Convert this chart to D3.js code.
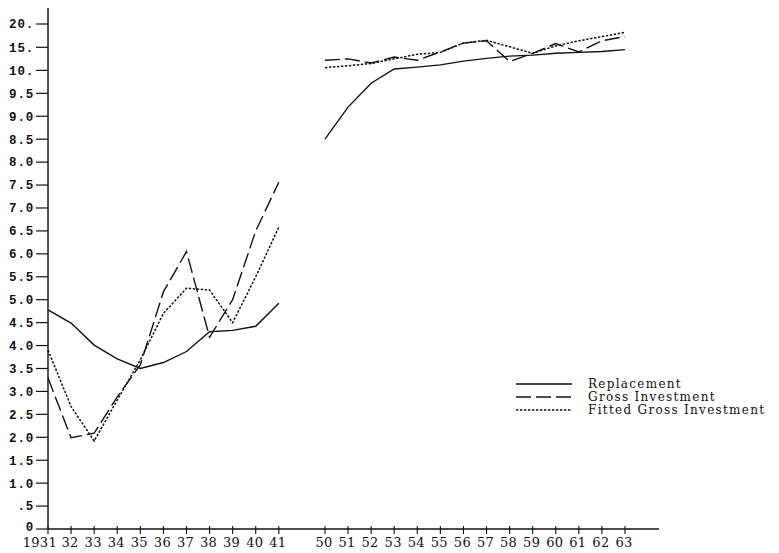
<!DOCTYPE html>
<html>
<head>
<meta charset="utf-8">
<script src="https://cdn.jsdelivr.net/npm/d3@7/dist/d3.min.js"></script>
<style>
  body { margin: 0; background: #fff; }
</style>
</head>
<body>
<div id="chart"></div>
<script>
// years, split in two runs (war years missing)
const yearsA = [1931, 1932, 1933, 1934, 1935, 1936, 1937, 1938, 1939, 1940, 1941];
const yearsB = [1950, 1951, 1952, 1953, 1954, 1955, 1956, 1957, 1958, 1959, 1960, 1961, 1962, 1963];

const replacementA = [4.78, 4.49, 4.01, 3.71, 3.50, 3.63, 3.87, 4.30, 4.33, 4.42, 4.92];
const grossA       = [3.29, 1.99, 2.09, 2.88, 3.58, 5.17, 6.05, 4.18, 5.00, 6.50, 7.56];
const fittedA      = [3.90, 2.67, 1.92, 2.81, 3.69, 4.70, 5.25, 5.21, 4.50, 5.50, 6.58];

const replacementB = [8.50, 9.20, 9.72, 10.3, 10.7, 11.2, 12.0, 12.6, 13.1, 13.3, 13.7, 13.9, 14.1, 14.5];
const grossB       = [12.2, 12.5, 11.6, 12.9, 12.2, 14.0, 15.9, 16.4, 11.9, 13.7, 15.8, 14.0, 16.4, 17.3];
const fittedB      = [10.6, 11.0, 11.5, 12.5, 13.5, 13.9, 15.9, 16.5, 15.1, 13.7, 15.3, 16.4, 17.3, 18.2];

const yTicks = [0, 0.5, 1, 1.5, 2, 2.5, 3, 3.5, 4, 4.5, 5, 5.5, 6, 6.5, 7, 7.5, 8, 8.5, 9, 9.5, 10, 15, 20];
const yTickLabels = ["0", ".5", "1.0", "1.5", "2.0", "2.5", "3.0", "3.5", "4.0", "4.5", "5.0", "5.5",
  "6.0", "6.5", "7.0", "7.5", "8.0", "8.5", "9.0", "9.5", "10.", "15.", "20."];
const xTickLabels = ["1931", "32", "33", "34", "35", "36", "37", "38", "39", "40", "41",
  "50", "51", "52", "53", "54", "55", "56", "57", "58", "59", "60", "61", "62", "63"];

const seriesNames = ["Replacement", "Gross Investment", "Fitted Gross Investment"];
const dashes = [null, "15,5", "2.4,1.6"];

const width = 779, height = 553;

const svg = d3.select("#chart").append("svg")
  .attr("width", width)
  .attr("height", height);

// year -> slot on the axis, the gap 1942-49 is squeezed to two slots
const slot = yr => yr <= 1941 ? yr - 1931 : yr - 1950 + 12;

const x = d3.scaleLinear().domain([0, 25]).range([48, 625]);
// broken scale above 10
const y = d3.scaleLinear().domain([0, 10, 15, 20]).range([529, 70.4, 47.3, 24]);

const x0 = x(0), yBase = y(0);

// axes
svg.append("line")
  .attr("x1", x0).attr("x2", x0)
  .attr("y1", 8).attr("y2", yBase)
  .attr("stroke", "#111").attr("stroke-width", 1.4);

svg.append("line")
  .attr("x1", x0).attr("x2", 659)
  .attr("y1", yBase).attr("y2", yBase)
  .attr("stroke", "#111").attr("stroke-width", 1.4);

const yt = svg.selectAll("g.ytick")
  .data(yTicks)
  .enter()
  .append("g")
  .attr("class", "ytick");

yt.append("line")
  .attr("x1", x0 - 12).attr("x2", x0)
  .attr("y1", d => y(d)).attr("y2", d => y(d))
  .attr("stroke", "#111").attr("stroke-width", 1.2);

yt.append("text")
  .attr("x", 34)
  .attr("y", d => d === 0 ? y(d) - 2 : y(d))
  .attr("dy", "0.35em")
  .attr("text-anchor", "end")
  .attr("font-family", "Liberation Mono")
  .attr("font-weight", "bold")
  .attr("font-size", "12.5px")
  .attr("letter-spacing", "0.8px")
  .attr("fill", "#111")
  .text((d, i) => yTickLabels[i]);

const allYears = yearsA.concat(yearsB);

const xt = svg.selectAll("g.xtick")
  .data(allYears)
  .enter()
  .append("g")
  .attr("class", "xtick");

xt.append("line")
  .attr("x1", d => x(slot(d))).attr("x2", d => x(slot(d)))
  .attr("y1", yBase - 3).attr("y2", yBase + 5)
  .attr("stroke", "#111").attr("stroke-width", 1.1);

xt.append("text")
  .attr("x", (d, i) => i === 0 ? x(slot(d)) + 9 : x(slot(d)) - 1)
  .attr("y", 547)
  .attr("text-anchor", (d, i) => i === 0 ? "end" : "middle")
  .attr("font-family", "DejaVu Serif")
  .attr("font-size", "13px")
  .attr("letter-spacing", "0.3px")
  .attr("fill", "#111")
  .text((d, i) => xTickLabels[i]);

// lines
const line = d3.line()
  .x(d => x(slot(d[0])))
  .y(d => y(d[1]));

const segments = [
  [yearsA, replacementA, 0], [yearsB, replacementB, 0],
  [yearsA, grossA, 1], [yearsB, grossB, 1],
  [yearsA, fittedA, 2], [yearsB, fittedB, 2],
];

svg.selectAll("path.series")
  .data(segments)
  .enter()
  .append("path")
  .attr("class", "series")
  .attr("d", d => line(d[0].map((yr, i) => [yr, d[1][i]])))
  .attr("fill", "none")
  .attr("stroke", "#111")
  .attr("stroke-width", d => d[2] === 2 ? 1.5 : 1.4)
  .attr("stroke-dasharray", d => dashes[d[2]]);

// legend
const lg = svg.selectAll("g.legend")
  .data(seriesNames)
  .enter()
  .append("g")
  .attr("class", "legend")
  .attr("transform", (d, i) => `translate(516, ${384 + i * 13})`);

lg.append("line")
  .attr("x1", 0).attr("x2", 56)
  .attr("stroke", "#111")
  .attr("stroke-width", 1.4)
  .attr("stroke-dasharray", (d, i) => dashes[i]);

lg.append("text")
  .attr("x", 72)
  .attr("dy", "0.35em")
  .attr("font-family", "DejaVu Serif")
  .attr("font-size", "12px")
  .attr("letter-spacing", "1.3px")
  .attr("fill", "#111")
  .text(d => d);
</script>
</body>
</html>
